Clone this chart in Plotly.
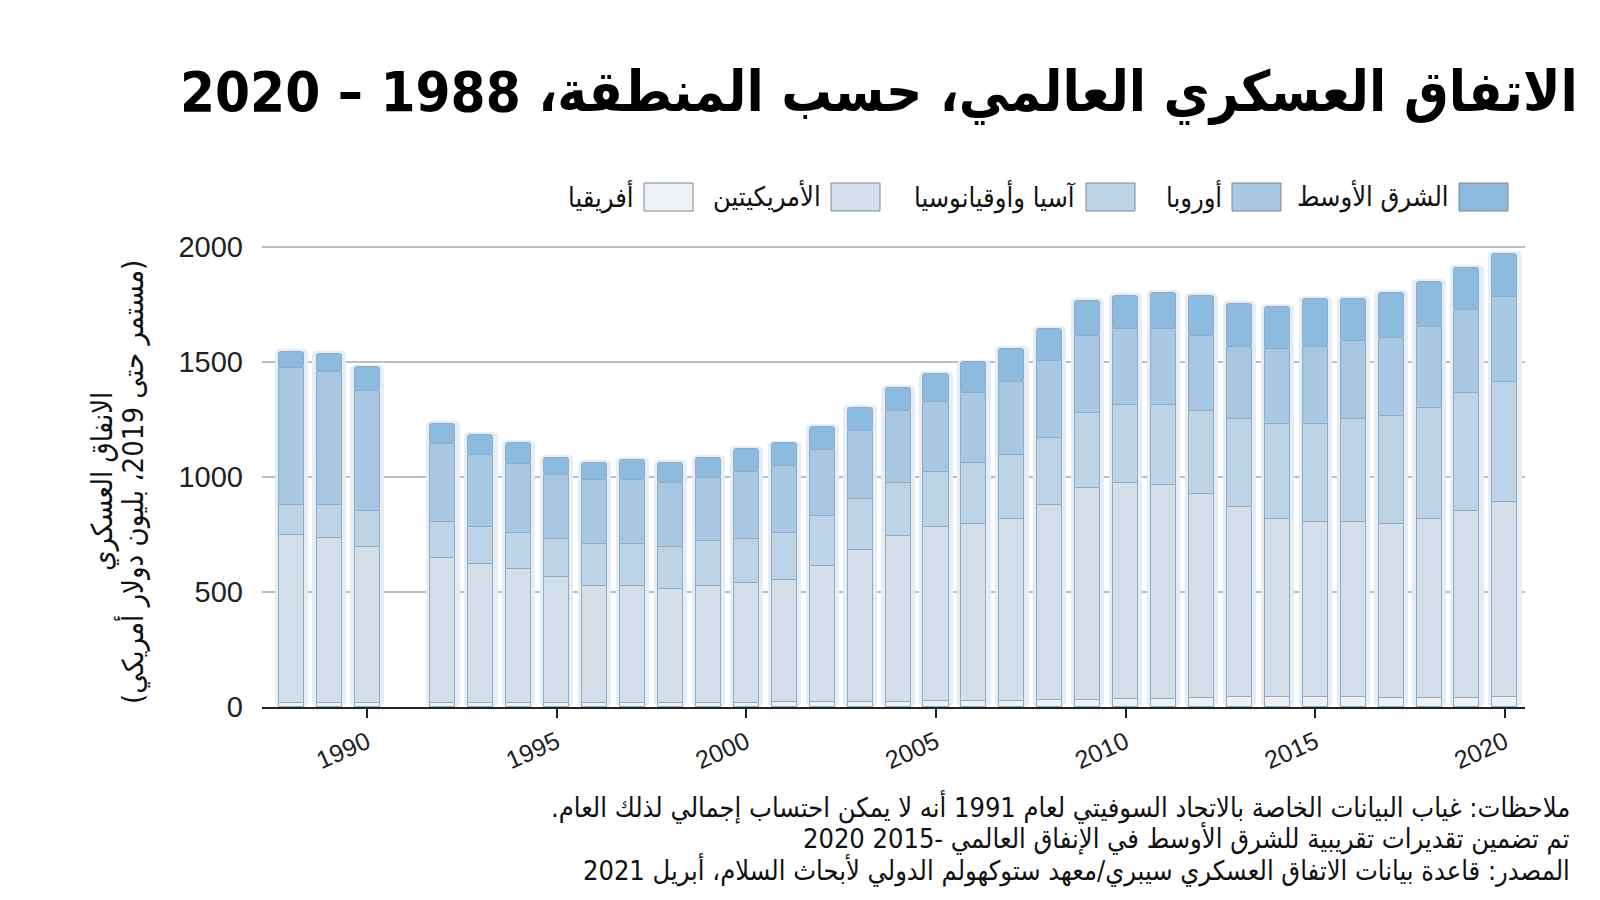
import plotly.graph_objects as go

years = [1988, 1989, 1990, 1992, 1993, 1994, 1995, 1996, 1997, 1998, 1999, 2000,
         2001, 2002, 2003, 2004, 2005, 2006, 2007, 2008, 2009, 2010, 2011, 2012,
         2013, 2014, 2015, 2016, 2017, 2018, 2019, 2020]

africa = [18, 18, 18, 17, 17, 17, 17, 17, 18, 18, 18, 19,
          20, 21, 21, 22, 24, 25, 27, 30, 32, 33, 34, 40,
          43, 45, 43, 42, 41, 41, 41, 43]
americas = [728, 716, 677, 630, 606, 581, 546, 507, 506, 496, 506, 520,
            530, 590, 663, 722, 756, 768, 790, 848, 919, 940, 929, 885,
            824, 772, 761, 762, 752, 776, 810, 846]
asia_oceania = [130, 142, 158, 158, 159, 158, 168, 184, 184, 180, 196, 192,
                206, 217, 218, 229, 243, 267, 276, 289, 326, 341, 351, 363,
                385, 411, 424, 448, 472, 484, 511, 521]
europe = [596, 581, 518, 339, 313, 301, 278, 276, 276, 279, 275, 290,
          289, 290, 299, 314, 302, 302, 317, 338, 335, 326, 326, 324,
          314, 327, 338, 339, 337, 350, 362, 373]
middle_east = [72, 76, 104, 86, 86, 90, 74, 76, 89, 87, 88, 100,
               100, 98, 100, 100, 122, 135, 147, 136, 151, 146, 159, 174,
               185, 183, 207, 182, 197, 196, 183, 185]

series_names = ["أفريقيا", "الأمريكيتين", "آسيا وأوقيانوسيا", "أوروبا", "الشرق الأوسط"]
series_values = [africa, americas, asia_oceania, europe, middle_east]
series_colors = ["#eef2f6", "#d4dfe9", "#bdd3e6", "#a7c7e2", "#8dbbe0"]

y_ticks = [0, 500, 1000, 1500, 2000]
x_ticks = [1990, 1995, 2000, 2005, 2010, 2015, 2020]

title_text = "الاتفاق العسكري العالمي، حسب المنطقة، 1988 – 2020"
ytitle_lines = ["الانفاق العسكري", "(مستمر حتى 2019، بليون دولار أمريكي)"]
notes = [
    "ملاحظات: غياب البيانات الخاصة بالاتحاد السوفيتي لعام 1991 أنه لا يمكن احتساب إجمالي لذلك العام.\u200f",
    "تم تضمين تقديرات تقريبية للشرق الأوسط في الإنفاق العالمي -2015 2020",
    "المصدر: قاعدة بيانات الاتفاق العسكري سيبري/معهد ستوكهولم الدولي لأبحاث السلام، أبريل 2021",
]

AR_FONT = "DejaVu Sans Condensed, DejaVu Sans, sans-serif"
NUM_FONT = "Liberation Sans, Arial, sans-serif"

# layout geometry (pixels)
L, R, T, B = 262, 1525, 242, 707
W, H = R - L, B - T


def px(x):
    return (x - L) / W


def py(y):
    return (B - y) / H


fig = go.Figure()

totals = [sum(v) for v in zip(*series_values)]
# light halo behind each bar
fig.add_trace(go.Bar(
    x=years, y=[t + 12 for t in totals], base=0, width=0.88,
    marker=dict(color="#e6edf5", line=dict(width=0), cornerradius=5),
    showlegend=False, hoverinfo="skip"))

cum = [0] * len(years)
for name, vals, col in zip(series_names, series_values, series_colors):
    fig.add_trace(go.Bar(
        x=years, y=vals, base=list(cum), width=0.66, name=name,
        marker=dict(color=col, line=dict(color="#8eacc6", width=1),
                    cornerradius=3 if name == series_names[-1] else 0),
        showlegend=False))
    cum = [c + v for c, v in zip(cum, vals)]

annotations = []
shapes = []

# title
annotations.append(dict(
    x=px(1580), y=py(92), xref="paper", yref="paper", xanchor="right", yanchor="middle",
    text="<b>" + title_text + "</b>", showarrow=False,
    font=dict(family=AR_FONT, size=56, color="#000000")))

# manual legend (right-to-left)
legend_swatch_left = [644, 831, 1086, 1232, 1459]
for name, col, sx in zip(series_names, series_colors, legend_swatch_left):
    shapes.append(dict(type="rect", xref="paper", yref="paper",
                       x0=px(sx), x1=px(sx + 49), y0=py(211), y1=py(183),
                       fillcolor=col, line=dict(color="#7f8790", width=1)))
    annotations.append(dict(
        x=px(sx - 8), y=py(196), xref="paper", yref="paper", xanchor="right",
        yanchor="middle", text=name, showarrow=False,
        font=dict(family=AR_FONT, size=27, color="#111111")))

# y-axis title (two rotated lines)
for line, xx in zip(ytitle_lines, [102, 132]):
    annotations.append(dict(
        x=px(xx), y=py(482), xref="paper", yref="paper", xanchor="center", yanchor="middle",
        text=line, textangle=-90, showarrow=False,
        font=dict(family=AR_FONT, size=29, color="#111111")))

# notes
for line, yy in zip(notes, [806, 838, 869]):
    annotations.append(dict(
        x=px(1572), y=py(yy), xref="paper", yref="paper", xanchor="right", yanchor="middle",
        text=line, showarrow=False, font=dict(family=AR_FONT, size=27, color="#111111")))

fig.update_layout(
    width=1600, height=900,
    margin=dict(l=L, r=1600 - R, t=T, b=900 - B, autoexpand=False),
    paper_bgcolor="white", plot_bgcolor="white",
    barmode="overlay", bargap=0,
    showlegend=False,
    annotations=annotations, shapes=shapes,
    xaxis=dict(range=[1987.23, 2020.53], tickmode="array", tickvals=x_ticks,
               ticktext=[str(t) for t in x_ticks], tickangle=-24,
               ticks="outside", ticklen=9, tickwidth=2, tickcolor="#222222",
               showline=True, linecolor="#222222", linewidth=2,
               showgrid=False, zeroline=False,
               tickfont=dict(family=NUM_FONT, size=25, color="#222222")),
    yaxis=dict(range=[0, 2020], tickmode="array", tickvals=y_ticks,
               ticktext=[str(t) for t in y_ticks],
               showgrid=True, gridcolor="#b7bfca", gridwidth=2,
               zeroline=False, showline=False, ticks="",
               ticklabelstandoff=18,
               tickfont=dict(family=NUM_FONT, size=29, color="#222222")),
)

fig.write_html("out.html",
               config={"displayModeBar": False},
               post_script="document.body.style.margin='0';document.body.style.padding='0';")
